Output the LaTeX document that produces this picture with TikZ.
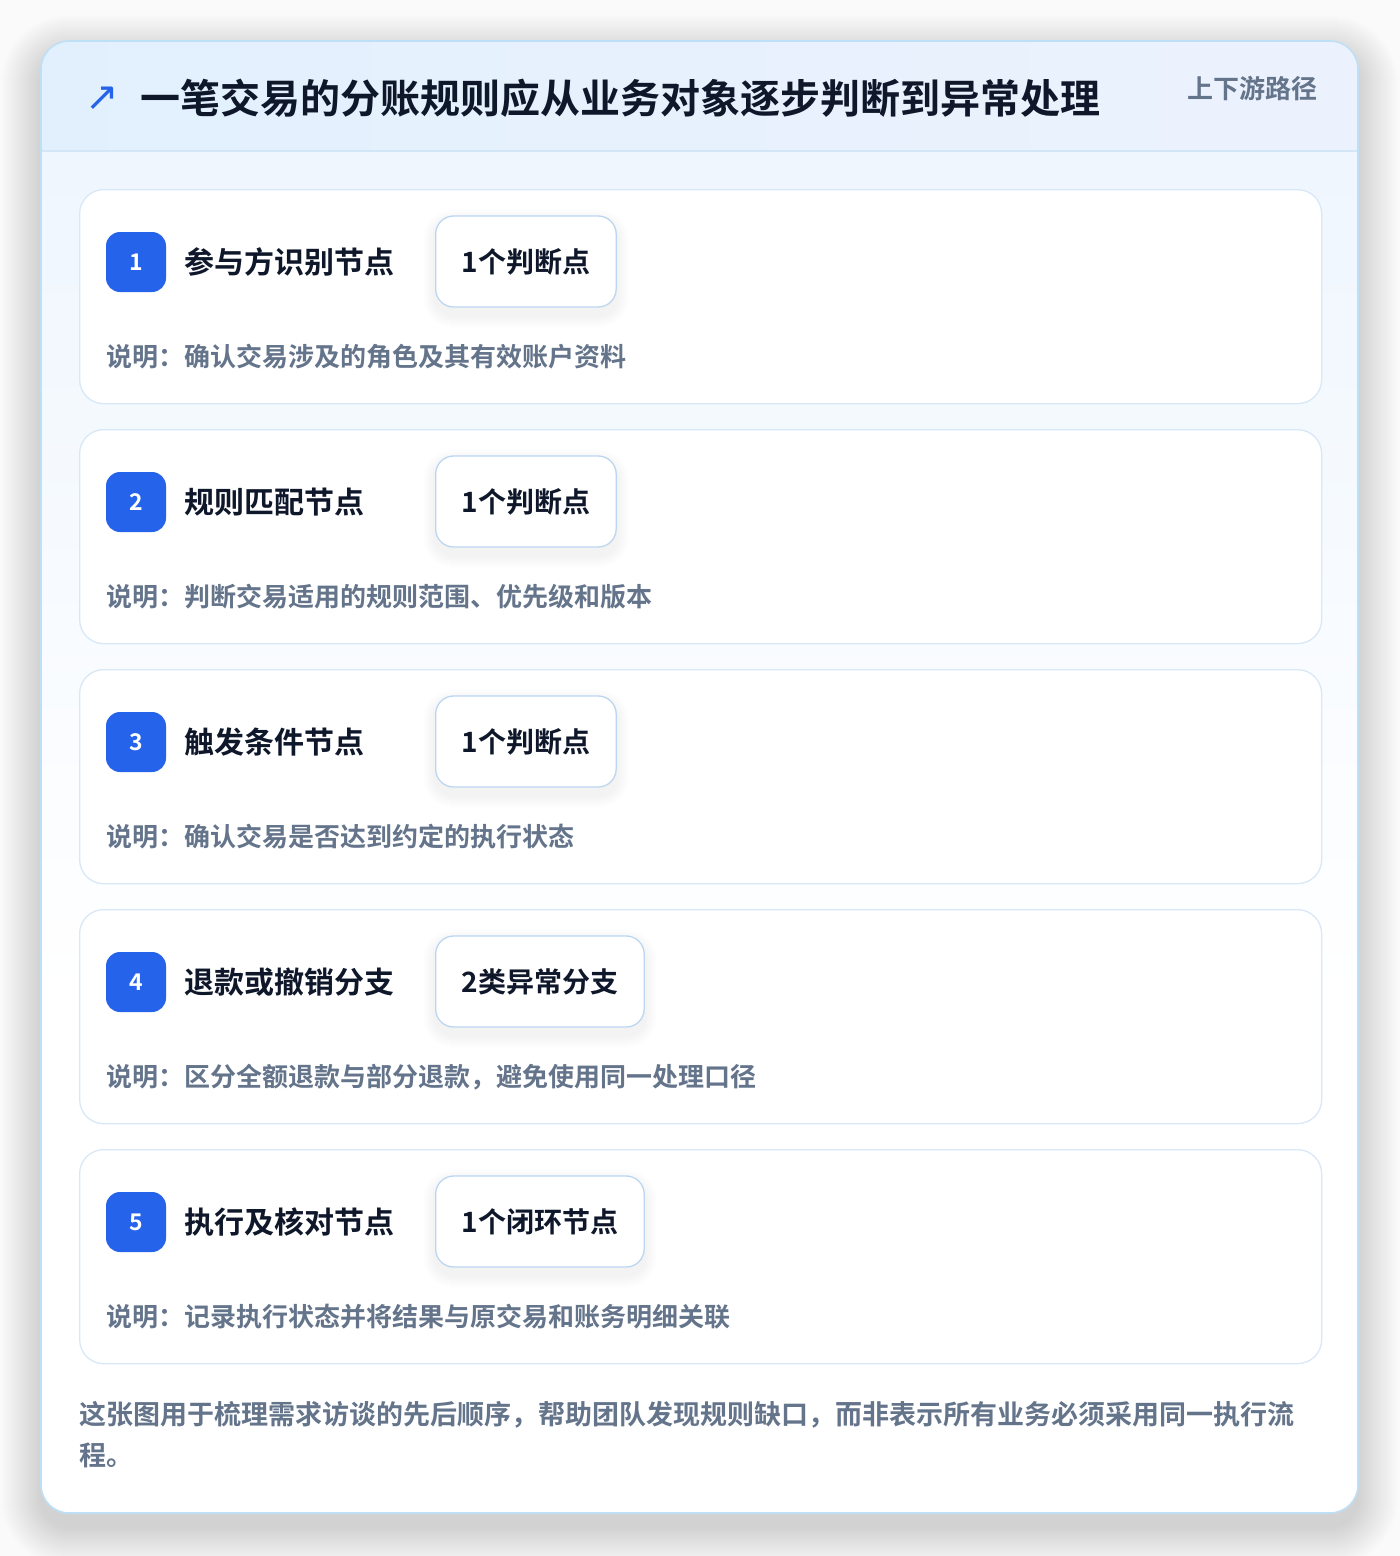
\documentclass[tikz,border=0pt]{standalone}
\usepackage{fontspec}
\setmainfont{Noto Sans CJK SC}[BoldFont={Noto Sans CJK SC Bold}]
\newfontfamily\symfont{DejaVu Sans}
\definecolor{pagebg}{HTML}{FAFAFB}
\definecolor{outerborder}{HTML}{BEE0F6}
\definecolor{hdrL}{HTML}{E2F0FD}
\definecolor{hdrR}{HTML}{ECF2FD}
\definecolor{hdrline}{HTML}{D3E6F8}
\definecolor{bodytop}{HTML}{EFF6FE}
\definecolor{cardborder}{HTML}{D8E8F8}
\definecolor{pillborder}{HTML}{BCD6F2}
\definecolor{badgeblue}{HTML}{2563EB}
\definecolor{titleink}{HTML}{0F172A}
\definecolor{mutedink}{HTML}{64748B}
\tikzset{
  cardbox/.style={draw=cardborder, line width=1.3pt, fill=white, rounded corners=24pt,
    minimum width=1242pt, minimum height=214pt, anchor=north west, inner sep=0pt},
  badgebox/.style={fill=badgeblue, rounded corners=14pt, minimum size=60pt, inner sep=0pt,
    text=white, font=\fontsize{23}{23}\selectfont\bfseries},
  steptitle/.style={anchor=west, inner sep=0pt, text=titleink, font=\fontsize{30}{36}\selectfont\bfseries},
  pillbox/.style={anchor=west, draw=pillborder, line width=1.3pt, fill=white, rounded corners=18pt,
    minimum height=91pt, inner xsep=26pt, inner ysep=0pt, text=titleink,
    font=\fontsize{28}{32}\selectfont\bfseries},
  desctext/.style={anchor=west, inner sep=0pt, text=mutedink, font=\fontsize{26}{30}\selectfont\bfseries},
}
\begin{document}
\begin{tikzpicture}[x=1pt,y=-1pt]
\useasboundingbox (0,0) rectangle (1400,1556);
\fill[pagebg] (0,0) rectangle (1400,1556);
% soft shadow of the outer card
\foreach \s in {1,...,40}{
  \fill[black, opacity=0.003, rounded corners=28pt+\s pt]
    (41-\s,41-\s+14) rectangle (1358+\s,1513+\s+14);
}
\fill[white, rounded corners=28pt] (41,41) rectangle (1358,1513);
\begin{scope}
  \clip[rounded corners=28pt] (41,41) rectangle (1358,1513);
  \shade[left color=hdrL, right color=hdrR] (41,41) rectangle (1358,151);
  \shade[top color=bodytop, bottom color=white] (41,151) rectangle (1358,1000);
  \fill[white] (41,1000) rectangle (1358,1513);
\end{scope}
\draw[hdrline, line width=1.3pt] (41,151) -- (1358,151);
\draw[outerborder, line width=1.6pt, rounded corners=28pt] (41,41) rectangle (1358,1513);
% header
\node[inner sep=0pt, text=badgeblue] (icon) at (102,99) {\symfont\fontsize{40}{40}\selectfont ↗};
\node[anchor=west, inner sep=0pt, text=titleink, font=\fontsize{40}{48}\selectfont\bfseries] (maintitle) at (140,98)
  {一笔交易的分账规则应从业务对象逐步判断到异常处理};
\node[anchor=east, inner sep=0pt, text=mutedink, font=\fontsize{26}{30}\selectfont\bfseries] (pathlabel) at (1318,89)
  {上下游路径};
% cards
\foreach \n/\ttl/\pl/\ds [count=\k from 0] in {
  1/{参与方识别节点}/{1个判断点}/{确认交易涉及的角色及其有效账户资料},
  2/{规则匹配节点}/{1个判断点}/{判断交易适用的规则范围、优先级和版本},
  3/{触发条件节点}/{1个判断点}/{确认交易是否达到约定的执行状态},
  4/{退款或撤销分支}/{2类异常分支}/{区分全额退款与部分退款，避免使用同一处理口径},
  5/{执行及核对节点}/{1个闭环节点}/{记录执行状态并将结果与原交易和账务明细关联}}
{
  \pgfmathsetmacro\yy{189+240*\k}
  \node[cardbox] (card\n) at (79,\yy) {};
  \node[badgebox] (badge\n) at (136,\yy+73) {\n};
  \node[steptitle] (title\n) at (184,\yy+73) {\ttl};
  % measure pill, then soft shadow under it
  \path (435,\yy+72.5) node[pillbox, draw=none, fill=none, text opacity=0] (ghost\n) {\pl};
  \foreach \s in {1,...,12}{
    \fill[black, opacity=0.004, rounded corners=18pt+\s pt]
      ([xshift=-\s pt, yshift=\s pt-6pt]ghost\n.north west) rectangle ([xshift=\s pt, yshift=-\s pt-8pt]ghost\n.south east);
  }
  \node[pillbox] (pill\n) at (435,\yy+72.5) {\pl};
  \node[desctext] (desc\n) at (106,\yy+168) {说明：\ds};
}
% footer
\node[anchor=north west, inner sep=0pt, align=left, text=mutedink,
  font=\fontsize{27}{41}\selectfont\bfseries] (footnote) at (79,1401)
  {这张图用于梳理需求访谈的先后顺序，帮助团队发现规则缺口，而非表示所有业务必须采用同一执行流\\程。};
\end{tikzpicture}
\end{document}
